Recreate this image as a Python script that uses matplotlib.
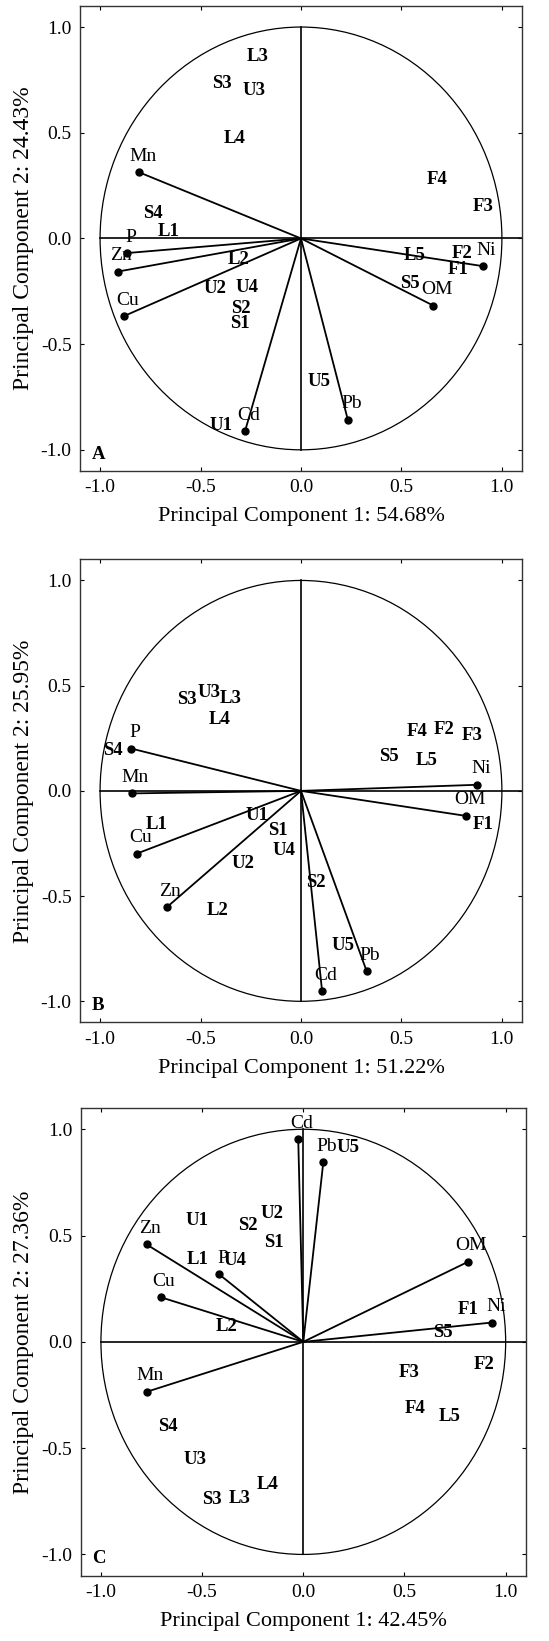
import matplotlib
matplotlib.use("Agg")
import matplotlib.pyplot as plt
from matplotlib.patches import Circle

plt.rcParams['font.family'] = ['Liberation Serif', 'DejaVu Serif']
plt.rcParams['axes.unicode_minus'] = False

# variance explained (PC1, PC2) for each panel
pc_pct = [("54.68", "24.43"), ("51.22", "25.95"), ("42.45", "27.36")]
panel_names = ["A", "B", "C"]

# --- panel A ---
A_vars = ["Mn", "P", "Zn", "Cu", "Ni", "OM", "Cd", "Pb"]
A_vx = [-0.806, -0.864, -0.913, -0.880, 0.905, 0.659, -0.279, 0.233]
A_vy = [0.313, -0.069, -0.157, -0.367, -0.131, -0.318, -0.913, -0.857]
A_samples = ["L3", "S3", "U3", "L4", "F4", "F3", "S4", "L1", "L2", "L5",
             "F2", "F1", "U2", "U4", "S2", "S1", "S5", "U5", "U1"]
A_sx = [-0.216, -0.394, -0.233, -0.332, 0.679, 0.905, -0.739, -0.661, -0.312, 0.565,
        0.801, 0.784, -0.428, -0.271, -0.300, -0.304, 0.543, 0.091, -0.400]
A_sy = [0.861, 0.734, 0.698, 0.472, 0.279, 0.152, 0.120, 0.033, -0.098, -0.082,
        -0.073, -0.145, -0.236, -0.231, -0.331, -0.402, -0.212, -0.679, -0.887]

# --- panel B ---
B_vars = ["P", "Mn", "Ni", "OM", "Cu", "Zn", "Pb", "Cd"]
B_vx = [-0.844, -0.841, 0.878, 0.822, -0.817, -0.669, 0.327, 0.105]
B_vy = [0.201, -0.012, 0.029, -0.119, -0.298, -0.554, -0.857, -0.951]
B_samples = ["S4", "S3", "U3", "L3", "L4", "F4", "F2", "F3", "S5", "L5",
             "F1", "L1", "U1", "S1", "U4", "U2", "S2", "L2", "U5"]
B_sx = [-0.935, -0.570, -0.457, -0.349, -0.404, 0.576, 0.714, 0.851, 0.435, 0.626,
        0.908, -0.719, -0.221, -0.113, -0.083, -0.290, 0.075, -0.417, 0.211]
B_sy = [0.190, 0.434, 0.466, 0.439, 0.339, 0.280, 0.292, 0.265, 0.165, 0.143,
        -0.160, -0.158, -0.115, -0.187, -0.285, -0.345, -0.437, -0.567, -0.737]

# --- panel C ---
C_vars = ["Cd", "Pb", "Zn", "P", "OM", "Cu", "Ni", "Mn"]
C_vx = [-0.025, 0.099, -0.774, -0.415, 0.813, -0.705, 0.934, -0.774]
C_vy = [0.952, 0.846, 0.458, 0.317, 0.376, 0.210, 0.091, -0.235]
C_samples = ["U5", "U1", "S2", "U2", "S1", "L1", "U4", "F1", "L2", "S5",
             "F2", "F3", "F4", "L5", "S4", "U3", "S3", "L3", "L4"]
C_sx = [0.222, -0.524, -0.272, -0.156, -0.145, -0.524, -0.338, 0.816, -0.379, 0.692,
        0.893, 0.524, 0.552, 0.725, -0.670, -0.535, -0.450, -0.313, -0.176]
C_sy = [0.912, 0.572, 0.545, 0.606, 0.467, 0.389, 0.384, 0.152, 0.071, 0.042,
        -0.105, -0.146, -0.313, -0.349, -0.400, -0.553, -0.741, -0.736, -0.673]

panels = [
    (A_vars, A_vx, A_vy, A_samples, A_sx, A_sy),
    (B_vars, B_vx, B_vy, B_samples, B_sx, B_sy),
    (C_vars, C_vx, C_vy, C_samples, C_sx, C_sy),
]

# axes rectangles in figure fractions
rects = [
    [0.1457, 0.7130, 0.8051, 0.2834],
    [0.1457, 0.3770, 0.8051, 0.2821],
    [0.1470, 0.0398, 0.8109, 0.2850],
]

fig = plt.figure(figsize=(5.49, 16.41), dpi=100)

for (vnames, vx, vy, snames, sx, sy), rect, (p1, p2), letter in zip(panels, rects, pc_pct, panel_names):
    ax = fig.add_axes(rect)
    ax.set_xlim(-1.1, 1.1)
    ax.set_ylim(-1.1, 1.1)

    ax.add_patch(Circle((0, 0), 1.0, fill=False, color="black", lw=0.9))
    ax.plot([-1, 1.1], [0, 0], color="black", lw=1.2)
    ax.plot([0, 0], [-1, 1], color="black", lw=1.2)

    # loading vectors
    for name, x, y in zip(vnames, vx, vy):
        ax.plot([0, x], [0, y], color="black", lw=1.3)
        ax.plot(x, y, "o", color="black", ms=5)
        ax.annotate(name, (x, y), xytext=(2.5, 11.5), textcoords="offset points",
                    ha="center", va="center", fontsize=14)

    # sample scores
    for name, x, y in zip(snames, sx, sy):
        ax.text(x, y, name, ha="center", va="center", fontsize=13.5, fontweight="bold")

    ax.text(-1.01, -1.02, letter, ha="center", va="center", fontsize=13.5, fontweight="bold")

    ticks = [-1.0, -0.5, 0.0, 0.5, 1.0]
    ax.set_xticks(ticks)
    ax.set_yticks(ticks)
    ax.tick_params(direction="in", top=True, right=True, length=3, width=0.8,
                   labelsize=14, pad=6)
    for s in ax.spines.values():
        s.set_color("#333333")
        s.set_linewidth(1.0)

    ax.set_xlabel("Principal Component 1: " + p1 + "%", fontsize=16, labelpad=8)
    ax.set_ylabel("Principal Component 2: " + p2 + "%", fontsize=17, labelpad=5)

fig.savefig("out.png", dpi=100)
